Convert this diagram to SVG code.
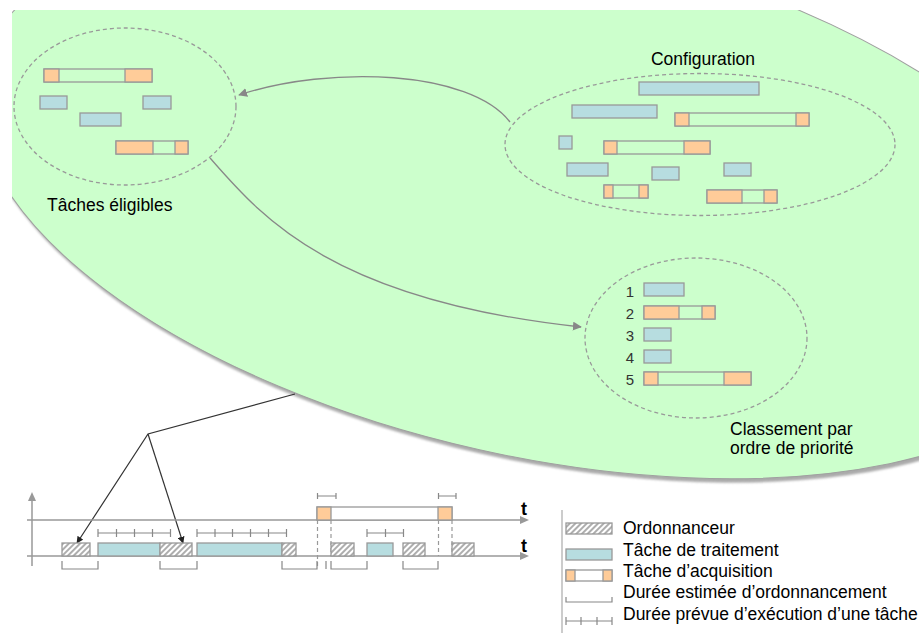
<svg xmlns="http://www.w3.org/2000/svg" width="919" height="633" viewBox="0 0 919 633">
<style>
text{font-family:"Liberation Sans",Arial,sans-serif;fill:#000}
.lbl{font-size:17.5px}
.num{font-size:15px;fill:#333;text-anchor:middle}
.blue{fill:#B7DDE0;stroke:#999;stroke-width:1.3}
.org{fill:#FFCC99;stroke:#999;stroke-width:1.3}
.box{fill:none;stroke:#999;stroke-width:1.3}
.wbox{fill:#fff;stroke:#999;stroke-width:1.3}
.hat{fill:url(#hatch);stroke:#999;stroke-width:1.3}
.dash{fill:none;stroke:#999;stroke-width:1.3;stroke-dasharray:4 3}
.ax{stroke:#999;stroke-width:1.5;fill:none}
.thin{stroke:#888;stroke-width:1.2;fill:none}
.vd{stroke:#999;stroke-width:1.2;stroke-dasharray:4 3;fill:none}
.gcon{stroke:#888;stroke-width:1.3;fill:none}
.bcon{stroke:#333;stroke-width:1.2;fill:none}
</style>
<defs>
<pattern id="hatch" width="4" height="4" patternUnits="userSpaceOnUse" patternTransform="rotate(45)">
<rect width="4" height="4" fill="#fff"/>
<line x1="1" y1="0" x2="1" y2="4" stroke="#777" stroke-width="1.2"/>
</pattern>
<clipPath id="clip"><rect x="12" y="10" width="907" height="623"/></clipPath>
<filter id="blur" x="-5%" y="-5%" width="110%" height="110%"><feGaussianBlur stdDeviation="1.2"/></filter>
<marker id="ga" viewBox="0 0 10 10" refX="9" refY="5" markerWidth="9" markerHeight="9" markerUnits="userSpaceOnUse" orient="auto"><path d="M0,0 L10,5 L0,10 Z" fill="#888"/></marker>
<marker id="ba" viewBox="0 0 10 10" refX="9" refY="5" markerWidth="7" markerHeight="7" markerUnits="userSpaceOnUse" orient="auto"><path d="M0,0 L10,5 L0,10 Z" fill="#222"/></marker>
</defs>

<g id="zone" clip-path="url(#clip)">
<ellipse cx="538" cy="201" rx="570" ry="259" transform="rotate(12.6 538 201)" fill="#AAAAAA" filter="url(#blur)"/>
<ellipse cx="536" cy="197" rx="570" ry="259" transform="rotate(12.6 536 197)" fill="#CCFFCC" stroke="#A0A0A0" stroke-width="1"/>
</g>

<g id="connectors">
<path class="gcon" d="M510,122 C470,70 330,65 239,95" marker-end="url(#ga)"/>
<path class="gcon" d="M210,158 C260,215 330,300 581,327" marker-end="url(#ga)"/>
<polyline class="bcon" points="295,394 148,434 77,543" marker-end="url(#ba)"/>
<line class="bcon" x1="148" y1="434" x2="183" y2="543" marker-end="url(#ba)"/>
</g>

<g id="eligibles">
<ellipse class="dash" cx="125" cy="106.5" rx="111" ry="78.5"/>
<rect class="box" x="44" y="69" width="108" height="13"/>
<rect class="org" x="44" y="69" width="15" height="13"/>
<rect class="org" x="125" y="69" width="27" height="13"/>
<rect class="blue" x="40" y="96" width="27" height="13"/>
<rect class="blue" x="143" y="96" width="28" height="13"/>
<rect class="blue" x="80" y="113" width="41" height="13"/>
<rect class="box" x="116" y="141" width="72" height="13"/>
<rect class="org" x="116" y="141" width="37" height="13"/>
<rect class="org" x="175" y="141" width="13" height="13"/>
<text class="lbl" x="47" y="211">Tâches éligibles</text>
</g>

<g id="configuration">
<text class="lbl" x="703" y="65" text-anchor="middle">Configuration</text>
<ellipse class="dash" cx="700" cy="144.5" rx="195" ry="71"/>
<rect class="blue" x="639" y="82" width="120" height="13"/>
<rect class="blue" x="572" y="105" width="85" height="13"/>
<rect class="box" x="675" y="113" width="134" height="13"/>
<rect class="org" x="675" y="113" width="14" height="13"/>
<rect class="org" x="796" y="113" width="13" height="13"/>
<rect class="blue" x="559" y="136" width="13" height="13"/>
<rect class="box" x="604" y="141" width="106" height="13"/>
<rect class="org" x="604" y="141" width="13" height="13"/>
<rect class="org" x="684" y="141" width="26" height="13"/>
<rect class="blue" x="567" y="163" width="41" height="13"/>
<rect class="blue" x="652" y="167" width="27" height="13"/>
<rect class="blue" x="724" y="163" width="27" height="13"/>
<rect class="box" x="604" y="185" width="44" height="13"/>
<rect class="org" x="604" y="185" width="9" height="13"/>
<rect class="org" x="639" y="185" width="9" height="13"/>
<rect class="box" x="707" y="190" width="70" height="13"/>
<rect class="org" x="707" y="190" width="35" height="13"/>
<rect class="org" x="764" y="190" width="13" height="13"/>
</g>

<g id="priorite">
<ellipse class="dash" cx="696" cy="338" rx="111" ry="80"/>
<text class="num" x="630" y="297">1</text>
<text class="num" x="630" y="319">2</text>
<text class="num" x="630" y="341">3</text>
<text class="num" x="630" y="363">4</text>
<text class="num" x="630" y="385">5</text>
<rect class="blue" x="644" y="283" width="40" height="13"/>
<rect class="box" x="644" y="306" width="71" height="13"/>
<rect class="org" x="644" y="306" width="35" height="13"/>
<rect class="org" x="702" y="306" width="13" height="13"/>
<rect class="blue" x="644" y="328" width="27" height="13"/>
<rect class="blue" x="644" y="350" width="27" height="13"/>
<rect class="box" x="644" y="372" width="107" height="13"/>
<rect class="org" x="644" y="372" width="14" height="13"/>
<rect class="org" x="724" y="372" width="27" height="13"/>
<text class="lbl" x="730" y="435">Classement par</text>
<text class="lbl" x="730" y="454">ordre de priorité</text>
</g>

<g id="chronogramme">
<line class="ax" x1="32" y1="566" x2="32" y2="500"/>
<path d="M28,501 L32,492 L36,501 Z" fill="#999"/>
<line class="ax" x1="27" y1="520" x2="521" y2="520"/>
<path d="M520,516 L529,520 L520,524 Z" fill="#999"/>
<line class="ax" x1="27" y1="556" x2="521" y2="556"/>
<path d="M520,552 L529,556 L520,560 Z" fill="#999"/>
<text x="521" y="515" style="font-size:18px;font-weight:bold">t</text>
<text x="521" y="552" style="font-size:18px;font-weight:bold">t</text>

<line class="vd" x1="317.5" y1="520" x2="317.5" y2="569"/>
<line class="vd" x1="331" y1="520" x2="331" y2="556"/>
<line class="vd" x1="438.5" y1="520" x2="438.5" y2="556"/>
<line class="vd" x1="452" y1="520" x2="452" y2="556"/>

<rect class="wbox" x="317" y="507" width="135" height="13"/>
<rect class="org" x="317" y="507" width="14" height="13"/>
<rect class="org" x="438" y="507" width="14" height="13"/>

<rect class="hat" x="62" y="543" width="28" height="13"/>
<rect class="blue" x="98" y="543" width="62" height="13"/>
<rect class="hat" x="160" y="543" width="32" height="13"/>
<rect class="blue" x="197" y="543" width="85" height="13"/>
<rect class="hat" x="282" y="543" width="14" height="13"/>
<rect class="hat" x="331" y="543" width="23" height="13"/>
<rect class="blue" x="367" y="543" width="26" height="13"/>
<rect class="hat" x="403" y="543" width="22" height="13"/>
<rect class="hat" x="452" y="543" width="22" height="13"/>

<path class="thin" d="M62,561 V569 H98 V561 M160,561 V569 H197 V561 M282,561 V569 H317 V561 M326,561 V569 M331,561 V569 H367 V561 M403,561 V569 H438 V561"/>

<path class="thin" d="M98,533 H170 M98,529 V537 M116.5,529 V537 M134.5,529 V537 M152.5,529 V537 M170.5,529 V537"/>
<path class="thin" d="M197,533 H287 M197,529 V537 M215,529 V537 M232.5,529 V537 M250.5,529 V537 M268.5,529 V537 M286.5,529 V537"/>
<path class="thin" d="M317.5,496 H336 M317.5,493 V499 M336,493 V499"/>
<path class="thin" d="M438.5,496 H456 M438.5,493 V499 M456,493 V499"/>
<path class="thin" d="M367,533 H403 M367,529 V537 M385.5,529 V537 M403.5,529 V537"/>
</g>

<g id="legende">
<line x1="562" y1="510" x2="562" y2="633" stroke="#aaa" stroke-width="1.2"/>
<rect class="hat" x="566" y="523" width="46" height="11"/>
<text class="lbl" x="623" y="534">Ordonnanceur</text>
<rect class="blue" x="566" y="549" width="46" height="11"/>
<text class="lbl" x="623" y="556">Tâche de traitement</text>
<rect class="wbox" x="566" y="570" width="46" height="11"/>
<rect class="org" x="566" y="570" width="9" height="11"/>
<rect class="org" x="603" y="570" width="9" height="11"/>
<text class="lbl" x="623" y="577">Tâche d’acquisition</text>
<path class="thin" d="M566,597 V602 H612 V597"/>
<text class="lbl" x="623" y="598">Durée estimée d’ordonnancement</text>
<path class="thin" d="M566,621 H612 M566,617 V625 M581,617 V625 M597,617 V625 M612,617 V625"/>
<text class="lbl" x="623" y="620">Durée prévue d’exécution d’une tâche</text>
</g>
</svg>
